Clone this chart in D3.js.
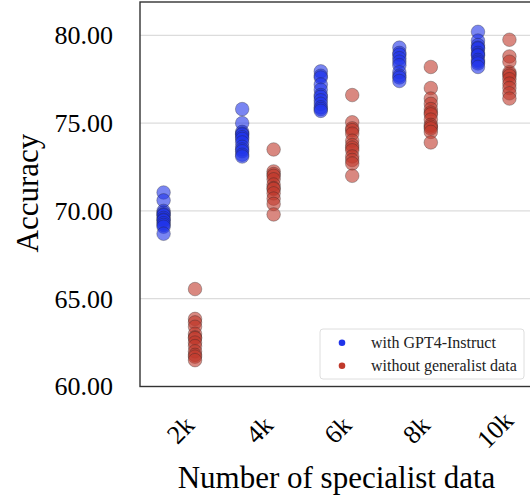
<!DOCTYPE html>
<html>
<head>
<meta charset="utf-8">
<script src="https://cdn.jsdelivr.net/npm/d3@7"></script>
<style>
    body { margin: 0; background: #fff; }
    svg, svg text { font-family: "Liberation Serif", "Times New Roman", serif !important; }
    svg { display: block; }
</style>
</head>
<body>
<svg id="chart" width="530" height="499"></svg>
<script>
// Specialist data sizes on the x axis
const categories = ["2k", "4k", "6k", "8k", "10k"];

// Accuracy per run, with GPT4-Instruct generalist data
const withGpt4 = [
    [71.05, 70.6, 70.0, 69.9, 69.8, 69.75, 69.6, 69.5, 69.45, 69.3, 69.2, 69.1, 68.7],
    [75.8, 75.0, 74.5, 74.4, 74.35, 74.2, 74.1, 73.9, 73.65, 73.5, 73.4, 73.2, 73.1],
    [77.95, 77.7, 77.6, 77.2, 76.9, 76.6, 76.5, 76.3, 76.1, 75.9, 75.8, 75.7],
    [79.3, 79.0, 78.9, 78.7, 78.5, 78.3, 77.9, 77.7, 77.6, 77.4],
    [80.2, 79.7, 79.45, 79.3, 79.25, 79.0, 78.9, 78.85, 78.6, 78.5, 78.4, 78.2]
];

// Accuracy per run, without generalist data
const withoutGeneralist = [
    [65.55, 63.85, 63.65, 63.4, 63.0, 62.8, 62.75, 62.5, 62.3, 62.0, 61.8, 61.7, 61.5],
    [73.5, 72.25, 72.1, 72.0, 71.8, 71.5, 71.3, 71.25, 71.0, 70.7, 70.4, 69.8],
    [76.6, 75.05, 74.7, 74.6, 74.4, 74.0, 73.75, 73.6, 73.45, 73.1, 72.9, 72.7, 72.0],
    [78.2, 77.0, 76.4, 76.1, 75.8, 75.6, 75.5, 75.2, 74.9, 74.8, 74.7, 74.5, 73.9],
    [79.75, 78.8, 78.5, 77.9, 77.8, 77.7, 77.5, 77.25, 77.0, 76.7, 76.4]
];

const yTicks = [60, 65, 70, 75, 80];

const series = [
    { label: "with GPT4-Instruct", color: "#2034ea", offset: -0.2, values: withGpt4 },
    { label: "without generalist data", color: "#c0392b", offset: 0.2, values: withoutGeneralist }
];

const svg = d3.select("#chart");
const plotLeft = 140, plotRight = 533, plotTop = 2, plotBottom = 386.5;

const x = d3.scaleLinear().domain([-0.5, 4.5]).range([plotLeft, plotRight]);
const y = d3.scaleLinear().domain([60, 81.9]).range([plotBottom, plotTop]);

// horizontal grid
svg.append("g")
    .selectAll("line")
    .data(yTicks)
    .enter().append("line")
    .attr("x1", plotLeft)
    .attr("x2", plotRight)
    .attr("y1", d => y(d))
    .attr("y2", d => y(d))
    .attr("stroke", "#dcdcdc")
    .attr("stroke-width", 1.2);

// points
series.forEach(s => {
    const pts = [];
    s.values.forEach((vals, i) => vals.forEach(v => pts.push({ i: i, v: v })));
    svg.append("g")
        .selectAll("circle")
        .data(pts)
        .enter().append("circle")
        .attr("cx", d => x(d.i + s.offset))
        .attr("cy", d => y(d.v))
        .attr("r", 6.8)
        .attr("fill", s.color)
        .attr("fill-opacity", 0.6)
        .attr("stroke", "#222")
        .attr("stroke-opacity", 0.4)
        .attr("stroke-width", 0.8);
});

// frame
svg.append("rect")
    .attr("x", plotLeft)
    .attr("y", plotTop)
    .attr("width", plotRight - plotLeft)
    .attr("height", plotBottom - plotTop)
    .attr("fill", "none")
    .attr("stroke", "#333")
    .attr("stroke-width", 1.4);

// y axis
const yAxis = d3.axisLeft(y)
    .tickValues(yTicks)
    .tickFormat(d3.format(".2f"))
    .tickSize(0)
    .tickPadding(27);

svg.append("g")
    .attr("transform", `translate(${plotLeft},0)`)
    .call(yAxis)
    .attr("font-family", null)
    .call(g => g.select(".domain").remove())
    .selectAll("text")
    .attr("font-size", 26)
    .attr("fill", "#000");

// x tick labels, rotated
svg.append("g")
    .selectAll("text")
    .data(categories)
    .enter().append("text")
    .attr("transform", (d, i) => `translate(${x(i) + 1.5},430) rotate(-45)`)
    .attr("text-anchor", "middle")
    .attr("dominant-baseline", "central")
    .attr("font-size", 26)
    .text(d => d);

// axis titles
svg.append("text")
    .attr("x", (plotLeft + plotRight) / 2)
    .attr("y", 488)
    .attr("text-anchor", "middle")
    .attr("font-size", 31)
    .text("Number of specialist data");

svg.append("text")
    .attr("transform", "translate(27,193) rotate(-90)")
    .attr("text-anchor", "middle")
    .attr("dominant-baseline", "central")
    .attr("font-size", 31)
    .text("Accuracy");

// legend
const legend = svg.append("g");
legend.append("rect")
    .attr("x", 320)
    .attr("y", 329)
    .attr("width", 204)
    .attr("height", 50)
    .attr("rx", 3)
    .attr("fill", "#fff")
    .attr("fill-opacity", 0.85)
    .attr("stroke", "#dedede");

series.forEach((s, k) => {
    const ly = 342.7 + k * 23;
    legend.append("circle")
        .attr("cx", 342)
        .attr("cy", ly)
        .attr("r", 3.3)
        .attr("fill", s.color);
    legend.append("text")
        .attr("x", 371)
        .attr("y", ly)
        .attr("dominant-baseline", "central")
        .attr("font-size", 16)
        .attr("fill", "#222")
        .text(s.label);
});
</script>
</body>
</html>
